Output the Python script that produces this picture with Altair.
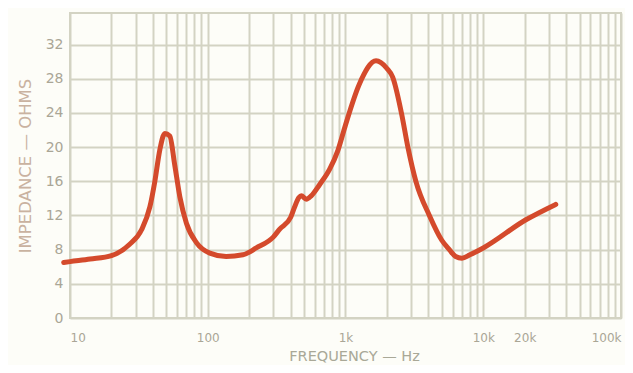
import altair as alt
import pandas as pd

# Impedance curve (frequency in Hz, impedance in ohms)
freq = [9, 10, 14, 20, 27, 33, 38, 41.3, 44.9, 48.8, 53, 57.6, 62.7, 70, 83,
        103.5, 136, 180, 225, 300, 333, 400, 427, 459, 478, 519, 564, 648,
        766, 880, 1000, 1262, 1667, 2000, 2200, 2547, 2838, 3243, 4064, 5000,
        5675, 6300, 7000, 8000, 10000, 20400, 33600]
ohms = [6.5, 6.6, 6.9, 7.3, 8.6, 10.3, 13.0, 16.0, 19.7, 21.6, 21.3, 17.9,
        14.2, 11.1, 8.8, 7.6, 7.2, 7.4, 8.2, 9.5, 10.4, 11.8, 13.0, 14.1,
        14.3, 13.9, 14.3, 15.6, 17.4, 19.6, 22.6, 27.4, 30.1, 29.2, 28.2,
        24.0, 20.0, 16.0, 12.0, 9.1, 8.0, 7.2, 7.0, 7.4, 8.2, 11.5, 13.3]

x_grid = [m * d for d in (10, 100, 1000, 10000) for m in range(1, 10)] + [100000]
y_ticks = [0, 4, 8, 12, 16, 20, 24, 28, 32]
x_labels = {10: "10", 100: "100", 1000: "1k", 10000: "10k", 20000: "20k", 100000: "100k"}

df = pd.DataFrame({"f": freq, "z": ohms})

label_expr = " : ".join(
    f"datum.value == {k} ? '{v}'" for k, v in x_labels.items()
) + " : ''"

GRID = "#d3d3c3"

chart = alt.Chart(df).mark_line(
    color="#d44a2c", strokeWidth=5, strokeCap="round", strokeJoin="round",
    interpolate="monotone"
).encode(
    x=alt.X("f:Q", scale=alt.Scale(type="log", domain=[10, 100000], nice=False),
            axis=alt.Axis(values=x_grid, labelExpr=label_expr, labelOverlap=False,
                          ticks=False, domain=False, grid=True, gridColor=GRID,
                          gridWidth=2, labelColor="#aaa696", labelFontSize=12,
                          labelFont="DejaVu Sans", labelPadding=14,
                          title="FREQUENCY — Hz", titleColor="#a9a897",
                          titleFontSize=14.5, titleFontWeight="normal",
                          titleFont="DejaVu Sans", titleX=284, titleY=42,
                          titleBaseline="alphabetic", titleAlign="center")),
    y=alt.Y("z:Q", scale=alt.Scale(domain=[0, 35.7], nice=False, zero=True),
            axis=alt.Axis(values=y_ticks, ticks=False, domain=False, grid=True,
                          gridColor=GRID, gridWidth=2, labelColor="#aaa696",
                          labelFontSize=14, labelFont="DejaVu Sans", labelPadding=7,
                          title="IMPEDANCE — OHMS", titleColor="#c9b2a0",
                          titleFontSize=16.5, titleFontWeight="normal",
                          titleFont="DejaVu Sans", titlePadding=12)),
).properties(
    width=551, height=305,
    autosize=alt.AutoSizeParams(type="none"),
    padding={"left": 62, "top": 5, "right": 4, "bottom": 47},
).configure(background="#fdfdf8").configure_view(stroke=GRID, strokeWidth=2)

chart.save("out.html", embed_options={"renderer": "svg", "actions": False})
